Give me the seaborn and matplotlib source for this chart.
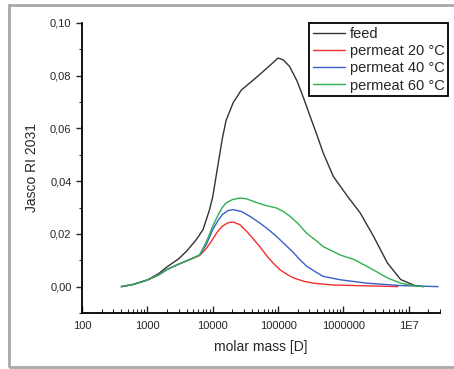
import numpy as np
import pandas as pd
import matplotlib
matplotlib.use("Agg")
import matplotlib.pyplot as plt
from matplotlib.ticker import FuncFormatter, FixedLocator, LogLocator, NullFormatter
from matplotlib.patches import Rectangle
import seaborn as sns

# values
feed_mass = [400, 600, 1000, 1500, 2000, 3000, 4000, 5600, 7100, 8900, 10000, 12000, 14000,
             16000, 20500, 27500, 38000, 50000, 76000, 100000, 120000, 150000, 195000, 250000,
             310000, 400000, 490000, 700000, 1150000, 1800000, 2900000, 4700000, 7500000,
             12000000, 17000000]
feed_y = [0, 0.0008, 0.0025, 0.005, 0.0075, 0.0105, 0.0135, 0.0178, 0.0216, 0.029, 0.034, 0.046,
          0.056, 0.063, 0.0697, 0.0746, 0.0775, 0.080, 0.084, 0.0867, 0.086, 0.0835, 0.078, 0.071,
          0.0645, 0.057, 0.0507, 0.0418, 0.0343, 0.028, 0.019, 0.009, 0.0027, 0.0005, 0.0]

p20_mass = [400, 600, 1000, 1500, 2000, 3000, 4000, 5000, 6300, 8000, 10000, 12000, 14000, 17000,
            20500, 26000, 33000, 42000, 54000, 68000, 85000, 108000, 140000, 173000, 250000,
            350000, 700000, 2300000, 6800000]
p20_y = [0, 0.0008, 0.0025, 0.0045, 0.0065, 0.0085, 0.0098, 0.0108, 0.0118, 0.0145, 0.018, 0.021,
         0.0229, 0.0242, 0.0245, 0.0235, 0.021, 0.018, 0.0148, 0.0115, 0.0088, 0.0063, 0.0045,
         0.0033, 0.002, 0.0013, 0.0006, 0.0003, 0]

p40_mass = [400, 600, 1000, 1500, 2000, 3000, 4000, 5000, 6300, 8000, 10000, 12000, 14000, 17000,
            20500, 27500, 38000, 52000, 70000, 95000, 130000, 173000, 220000, 275000, 380000,
            490000, 890000, 2300000, 7500000, 28000000]
p40_y = [0, 0.0008, 0.0025, 0.0045, 0.0065, 0.0085, 0.0098, 0.0108, 0.012, 0.016, 0.0216, 0.025,
         0.0273, 0.0288, 0.0292, 0.0285, 0.0265, 0.0242, 0.0218, 0.019, 0.0158, 0.0128, 0.010,
         0.0077, 0.0055, 0.0039, 0.0026, 0.0013, 0.0004, 0]

p60_mass = [400, 600, 1000, 1500, 2000, 3000, 4000, 5000, 6300, 8000, 10000, 12000, 14000, 16000,
            20000, 26000, 33000, 42000, 60000, 95000, 120000, 152000, 200000, 275000, 380000,
            490000, 890000, 1450000, 2900000, 4700000, 7500000, 12000000, 17000000]
p60_y = [0, 0.0008, 0.0025, 0.0045, 0.0065, 0.0085, 0.0098, 0.0108, 0.012, 0.017, 0.0229, 0.027,
         0.030, 0.0317, 0.033, 0.0336, 0.0333, 0.0323, 0.031, 0.0298, 0.0285, 0.0267, 0.024,
         0.0202, 0.0175, 0.0152, 0.012, 0.0103, 0.0063, 0.0033, 0.0013, 0.0003, 0]

series = ["feed", "permeat 20 °C", "permeat 40 °C", "permeat 60 °C"]
colors = ["#333333", "#f03030", "#3a5fc8", "#30b050"]
x_ticks = [100, 1000, 10000, 100000, 1000000, 10000000]
x_ticklabels = ["100", "1000", "10000", "100000", "1000000", "1E7"]

frames = []
for name, m, v in zip(series, [feed_mass, p20_mass, p40_mass, p60_mass],
                      [feed_y, p20_y, p40_y, p60_y]):
    frames.append(pd.DataFrame({"mass": m, "signal": v, "sample": name}))
df = pd.concat(frames, ignore_index=True)

sns.set_style("ticks")
plt.rcParams['font.family'] = ['Liberation Sans', 'DejaVu Sans']

fig = plt.figure(figsize=(4.54, 3.69), dpi=100)
ax = fig.add_axes([0.1806, 0.1518, 0.7885, 0.786])

sns.lineplot(data=df, x="mass", y="signal", hue="sample", hue_order=series,
             palette=colors, estimator=None, sort=False, linewidth=1.0, ax=ax, legend=False)

ax.set_xscale("log")
ax.set_xlim(100, 3e7)
ax.set_ylim(-0.01, 0.10)
ax.xaxis.set_major_locator(FixedLocator(x_ticks))
ax.set_xticklabels(x_ticklabels)
ax.xaxis.set_minor_locator(LogLocator(base=10, subs=np.arange(2, 10)))
ax.xaxis.set_minor_formatter(NullFormatter())
ax.set_yticks([0.0, 0.02, 0.04, 0.06, 0.08, 0.10])
ax.set_yticks(np.arange(-0.01, 0.1, 0.02), minor=True)
ax.yaxis.set_major_formatter(FuncFormatter(lambda v, p: f"{v:.2f}".replace(".", ",")))

ax.tick_params(axis="x", which="major", direction="in", length=5, width=1, labelsize=8, pad=6)
ax.tick_params(axis="x", which="minor", direction="in", length=3, width=0.8)
ax.tick_params(axis="y", which="major", direction="out", length=4, width=1, labelsize=8)
ax.tick_params(axis="y", which="minor", direction="out", length=2, width=0.8)

for s in ["top", "right"]:
    ax.spines[s].set_visible(False)
for s in ["left", "bottom"]:
    ax.spines[s].set_linewidth(1.3)
    ax.spines[s].set_color("black")

ax.set_xlabel("molar mass [D]", fontsize=10, labelpad=6)
ax.set_ylabel("Jasco RI 2031", fontsize=10, labelpad=8)

handles = [plt.Line2D([], [], color=c, lw=1.0) for c in colors]
leg = fig.legend(handles, series, loc="upper right", bbox_to_anchor=(0.987, 0.937),
                 fontsize=10.5, frameon=True, fancybox=False, framealpha=1,
                 edgecolor="black", handlelength=2.2, handletextpad=0.35,
                 labelspacing=0.22, borderpad=0.25, borderaxespad=0)
leg.get_frame().set_linewidth(1.3)

# grey frame around the picture
fig.add_artist(Rectangle((9 / 454, 2 / 369), 1.2, 1 - 7 / 369, transform=fig.transFigure,
                         fill=False, edgecolor="#a8a8a8", linewidth=2, clip_on=False))

fig.savefig("out.png", dpi=100)
